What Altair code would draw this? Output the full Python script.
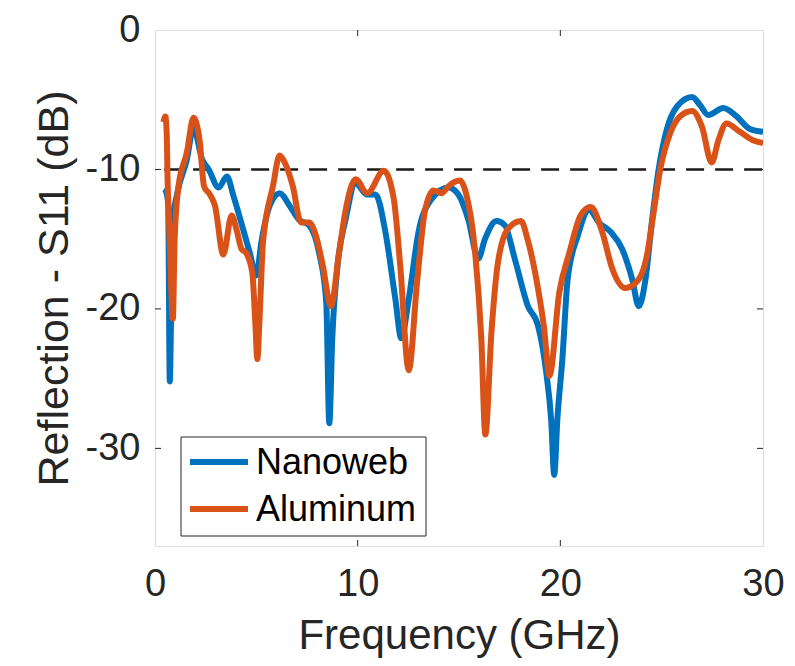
import altair as alt
import pandas as pd

# Nanoweb (blue)
nano_freq = [0.45, 0.55, 0.65, 0.73, 0.8, 0.9, 1.1, 1.57, 1.9, 2.33,
             2.65, 3.14, 3.55, 3.87, 4.35, 4.68, 5.0, 5.25, 5.66, 6.15,
             6.64, 7.1, 7.6, 8.1, 8.45, 8.6, 8.75, 9.0, 9.4, 9.9,
             10.47, 10.88, 11.37, 11.86, 12.15, 12.52, 13.0, 13.66, 14.48, 14.97,
             15.46, 15.95, 16.28, 16.85, 17.26, 17.75, 18.4, 18.9, 19.3, 19.55,
             19.7, 19.85, 20.1, 20.36, 20.85, 21.42, 21.9, 22.5, 23.05, 23.55,
             23.87, 24.2, 24.53, 24.85, 25.26, 25.75, 26.5, 26.9, 27.3, 28.04,
             28.7, 29.35, 30.0]
nano_db = [-11.4, -11.6, -12.5, -25.2, -20, -13.5, -11.7, -9.3, -7.0, -9.3,
           -10.0, -11.3, -10.5, -11.9, -14.3, -16.0, -17.6, -15.2, -12.6, -11.7,
           -12.6, -13.6, -14.0, -16.0, -19.5, -28.2, -22, -17, -13.6, -11.0,
           -11.8, -11.8, -14.5, -19.3, -22.1, -19.3, -14.5, -12.1, -11.3, -11.8,
           -13.6, -16.4, -15.0, -13.7, -14.0, -16.4, -19.8, -21.2, -24.5, -28,
           -31.9, -28, -23.6, -17.9, -14.8, -12.9, -13.8, -14.5, -15.7, -17.9,
           -19.8, -17.9, -13.6, -10.0, -7.1, -5.5, -4.8, -5.4, -6.1, -5.6,
           -6.2, -7.1, -7.3]

# Aluminum (orange)
alu_freq = [0.42, 0.51, 0.58, 0.62, 0.7, 0.8, 0.88, 0.97, 1.16, 1.57,
            1.9, 2.2, 2.42, 2.71, 2.96, 3.37, 3.78, 4.02, 4.27, 4.51,
            4.80, 4.95, 5.05, 5.15, 5.33, 5.82, 6.15, 6.4, 6.8, 7.2,
            7.6, 7.95, 8.28, 8.68, 9.08, 9.41, 9.9, 10.47, 11.29, 11.78,
            12.1, 12.52, 12.93, 13.33, 13.74, 14.15, 14.48, 15.05, 15.38, 15.78,
            16.1, 16.3, 16.6, 16.9, 17.4, 18.06, 18.38, 18.87, 19.2, 19.46,
            19.95, 20.44, 21.0, 21.5, 22.07, 22.56, 23.2, 23.86, 24.27, 24.6,
            24.93, 25.42, 25.9, 26.5, 26.98, 27.47, 27.8, 28.2, 28.86, 29.5,
            30.0]
alu_db = [-6.6, -6.2, -7.5, -10.7, -14, -18.5, -20.7, -15, -11.2, -8.8,
          -6.3, -7.9, -11.2, -11.8, -12.6, -16.1, -13.3, -14.3, -15.7, -16.0,
          -17.4, -21, -23.6, -21, -15.2, -11.2, -9.0, -9.5, -11.2, -13.8,
          -13.8, -14.8, -16.9, -19.8, -16.0, -12.9, -10.7, -11.7, -10.1, -12.1,
          -16.9, -24.4, -18.1, -12.9, -11.5, -11.7, -11.2, -10.8, -11.9, -15.7,
          -22.1, -29.0, -21.7, -16.9, -14.3, -13.7, -15.0, -18.3, -21.4, -24.8,
          -18.8, -16.0, -13.3, -12.7, -14.5, -17.1, -18.5, -17.9, -16.2, -13.1,
          -10.0, -7.4, -6.2, -5.8, -6.9, -9.5, -7.9, -6.7, -7.3, -7.9,
          -8.1]

series_names = ["Nanoweb", "Aluminum"]
series_colors = ["#0072BD", "#D95319"]
x_ticks = [0, 10, 20, 30]
y_ticks = [0, -10, -20, -30]
threshold = -10
x_domain = [0, 30]
y_domain = [-37, 0]

W, H = 608, 516
FONT = "Liberation Sans"
TXT = "#262626"

df = pd.concat([
    pd.DataFrame({"freq": nano_freq, "db": nano_db, "series": "Nanoweb", "o": range(len(nano_freq))}),
    pd.DataFrame({"freq": alu_freq, "db": alu_db, "series": "Aluminum", "o": range(len(alu_freq))}),
])

xs = alt.Scale(domain=x_domain, nice=False, zero=False)
ys = alt.Scale(domain=y_domain, nice=False, zero=False)
cscale = alt.Scale(domain=series_names, range=series_colors)
color = alt.Color("series:N", scale=cscale, legend=None)

xaxis = alt.Axis(values=x_ticks, tickSize=0, domain=False, grid=False, labelFontSize=38,
                 labelFont=FONT, labelColor=TXT, labelPadding=19, labelFlush=False,
                 labelOverlap=False, labelExpr="'' + datum.value",
                 title="Frequency (GHz)",
                 titleFont=FONT, titleFontSize=42, titleFontWeight="normal", titleColor=TXT,
                 titleBaseline="alphabetic", titleY=102, titleX=W / 2)
yaxis = alt.Axis(values=y_ticks, tickSize=0, domain=False, grid=False, labelFontSize=38,
                 labelFont=FONT, labelColor=TXT, labelPadding=15, labelFlush=False,
                 labelOverlap=False, labelExpr="'' + datum.value",
                 title="Reflection - S11 (dB)",
                 titleFont=FONT, titleFontSize=43, titleFontWeight="normal", titleColor=TXT,
                 titleBaseline="alphabetic", titleAngle=-90, titleX=-88, titleY=H / 2,
                 titleAlign="center")

base = alt.Chart(df)
line_nano = base.transform_filter(alt.datum.series == "Nanoweb").mark_line(
    strokeWidth=6, clip=True, interpolate="monotone").encode(
    x=alt.X("freq:Q", scale=xs, axis=xaxis),
    y=alt.Y("db:Q", scale=ys, axis=yaxis),
    color=color, order="o:Q")
line_alu = base.transform_filter(alt.datum.series == "Aluminum").mark_line(
    strokeWidth=6, clip=True, interpolate="monotone").encode(
    x=alt.X("freq:Q", scale=xs), y=alt.Y("db:Q", scale=ys), color=color, order="o:Q")

thr = alt.Chart(pd.DataFrame({"x1": [0.45], "x2": [30], "y": [threshold]})).mark_rule(
    color="#1a1a1a", strokeWidth=2.5, strokeDash=[18, 11]).encode(
    x=alt.X("x1:Q", scale=xs), x2="x2:Q", y=alt.Y("y:Q", scale=ys))

inner_x = [v for v in x_ticks if v not in x_domain]
inner_y = [v for v in y_ticks if v not in y_domain]
tx = pd.DataFrame({"v": inner_x})
ty = pd.DataFrame({"v": inner_y})
tick_b = alt.Chart(tx).mark_rule(color=TXT, strokeWidth=1).encode(
    x=alt.X("v:Q", scale=xs), y=alt.value(H), y2=alt.value(H - 6))
tick_t = alt.Chart(tx).mark_rule(color=TXT, strokeWidth=1).encode(
    x=alt.X("v:Q", scale=xs), y=alt.value(0), y2=alt.value(6))
tick_l = alt.Chart(ty).mark_rule(color=TXT, strokeWidth=1).encode(
    y=alt.Y("v:Q", scale=ys), x=alt.value(0), x2=alt.value(6))
tick_r = alt.Chart(ty).mark_rule(color=TXT, strokeWidth=1).encode(
    y=alt.Y("v:Q", scale=ys), x=alt.value(W), x2=alt.value(W - 6))

# legend box (drawn as layers, MATLAB style)
leg_box = alt.Chart(pd.DataFrame({"a": [0]})).mark_rect(
    fill="white", stroke=TXT, strokeWidth=1).encode(
    x=alt.value(26), x2=alt.value(271), y=alt.value(407), y2=alt.value(506))
leg_layers = []
row_y = [432, 479]
for name, yy in zip(series_names, row_y):
    ld = pd.DataFrame({"series": [name]})
    leg_layers.append(alt.Chart(ld).mark_rule(strokeWidth=6).encode(
        x=alt.value(35), x2=alt.value(93), y=alt.value(yy), color=color))
    leg_layers.append(alt.Chart(ld).mark_text(
        align="left", baseline="middle", font=FONT, fontSize=36, color="black").encode(
        x=alt.value(101), y=alt.value(yy + 1), text="series:N"))

chart = alt.layer(tick_b, tick_t, tick_l, tick_r, thr, line_nano, line_alu, leg_box, *leg_layers).properties(
    width=W, height=H,
    autosize=alt.AutoSizeParams(type="none"),
    padding={"left": 147, "top": 22, "right": 24, "bottom": 112},
).configure_view(stroke=TXT, strokeWidth=1.2).configure(background="white")

chart.save("out.html", embed_options={"renderer": "svg", "actions": False})
